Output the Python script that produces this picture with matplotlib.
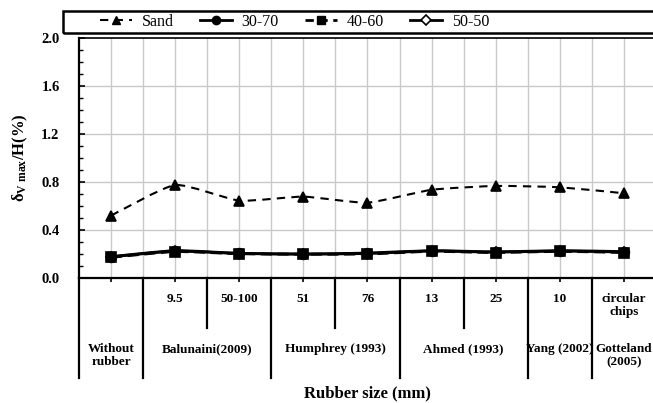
import matplotlib
matplotlib.use('Agg')
import matplotlib.pyplot as plt
from matplotlib.path import Path
from matplotlib.patches import PathPatch, Rectangle
from matplotlib.lines import Line2D
import numpy as np

plt.rcParams['font.family'] = ['Liberation Serif', 'DejaVu Serif']
plt.rcParams['mathtext.fontset'] = 'custom'
plt.rcParams['mathtext.rm'] = 'Liberation Serif:bold'
plt.rcParams['mathtext.it'] = 'Liberation Serif:bold'
plt.rcParams['mathtext.bf'] = 'Liberation Serif:bold'

# ---- data ----
sub_labels = ['', '9.5', '50-100', '51', '76', '13', '25', '10', 'circular\nchips']
group_names = ['Without\nrubber', 'Balunaini(2009)', 'Humphrey (1993)', 'Ahmed (1993)', 'Yang (2002)', 'Gotteland\n(2005)']
group_first = [0, 1, 3, 5, 7, 8]
group_last = [0, 2, 4, 6, 7, 8]
sand = [0.52, 0.775, 0.645, 0.678, 0.628, 0.735, 0.767, 0.756, 0.706]
s30_70 = [0.178, 0.228, 0.206, 0.200, 0.208, 0.228, 0.218, 0.228, 0.220]
s40_60 = [0.172, 0.220, 0.202, 0.198, 0.200, 0.222, 0.212, 0.222, 0.212]
s50_50 = [0.176, 0.224, 0.204, 0.199, 0.204, 0.225, 0.215, 0.225, 0.216]
yticks = [0.0, 0.4, 0.8, 1.2, 1.6, 2.0]

W, H = 653, 403
fig = plt.figure(figsize=(W / 100, H / 100), dpi=100)
L, R, T, B = 79, 656, 38, 278
ax = fig.add_axes([L / W, (H - B) / H, (R - L) / W, (B - T) / H])

x = np.arange(len(sand))


def smooth_path(xs, ys, k=0.09):
    pts = np.column_stack([xs, ys]).astype(float)
    ext = np.vstack([pts[0], pts, pts[-1]])
    verts = [pts[0]]
    codes = [Path.MOVETO]
    for i in range(len(pts) - 1):
        p0, p1, p2, p3 = ext[i], ext[i + 1], ext[i + 2], ext[i + 3]
        c1 = p1 + (p2 - p0) * k
        c2 = p2 - (p3 - p1) * k
        verts += [c1, c2, p2]
        codes += [Path.CURVE4] * 3
    return Path(verts, codes)


def draw_series(vals, ls, lw, marker, ms, mfc, z):
    patch = PathPatch(smooth_path(x, vals), facecolor='none', edgecolor='black',
                      lw=lw, linestyle=ls, zorder=z, capstyle='butt')
    ax.add_patch(patch)
    ax.plot(x, vals, linestyle='none', marker=marker, ms=ms, mfc=mfc,
            mec='black', mew=1.2, zorder=z + 0.1)


draw_series(s50_50, '-', 2.0, 'D', 5, 'white', 3)
draw_series(s40_60, (0, (4, 2)), 2.0, 's', 6.5, 'black', 4)
draw_series(s30_70, '-', 2.0, 'o', 7, 'black', 5)
draw_series(sand, (0, (4, 3)), 1.5, '^', 6.5, 'black', 6)

ax.set_xlim(-0.5, 8.5)
ax.set_ylim(0, 2.0)
ax.set_yticks(yticks)
ax.set_yticklabels([f'{v:.1f}' for v in yticks], fontsize=10.5, fontweight='bold')
ax.set_yticks(np.arange(0, 2.0001, 0.1), minor=True)
ax.tick_params(axis='y', which='major', direction='in', length=4, width=1.2, pad=14)
ax.tick_params(axis='y', which='minor', direction='in', length=3, width=1.0)
ax.set_xticks(x)
ax.set_xticklabels([])
ax.tick_params(axis='x', which='major', direction='out', length=3, width=1.2)

# grid
for gx in np.arange(0, 8.51, 0.5):
    ax.axvline(gx, color='#c9c9c9', lw=1.0, zorder=0)
for gy in yticks[1:-1]:
    ax.axhline(gy, color='#c9c9c9', lw=1.0, zorder=0)

for s in ['left', 'bottom', 'top']:
    ax.spines[s].set_linewidth(1.6)
ax.spines['right'].set_visible(False)
ax.spines['top'].set_linewidth(1.2)

# category table below axis
tr = ax.get_xaxis_transform()
full_end = (B - 378) / (B - T)
short_end = (B - 328) / (B - T)
bounds_full = sorted(set([g - 0.5 for g in group_first] + [group_last[-1] + 0.5]))
for bx in bounds_full:
    ax.add_line(Line2D([bx, bx], [0, full_end], transform=tr, color='black', lw=1.6, clip_on=False))
for f, l in zip(group_first, group_last):
    for k in range(f, l):
        ax.add_line(Line2D([k + 0.5, k + 0.5], [0, short_end], transform=tr, color='black', lw=1.6, clip_on=False))

sub_y = (B - 293) / (B - T)
for xi, lab in zip(x, sub_labels):
    ax.text(xi, sub_y, lab, transform=tr, ha='center', va='top', fontsize=9.5,
            fontweight='bold', linespacing=1.15)
grp_y = (B - 343) / (B - T)
for name, f, l in zip(group_names, group_first, group_last):
    ax.text((f + l) / 2, grp_y, name, transform=tr, ha='center', va='top', fontsize=9.5,
            fontweight='bold', linespacing=1.15)

ax.text(4.0, (B - 393) / (B - T), 'Rubber size (mm)', transform=tr, ha='center', va='center',
        fontsize=12, fontweight='bold')
ax.text((20 - L) / (R - L), 0.5, r'δ$_{\mathrm{V\ max}}$/H(%)', transform=ax.transAxes,
        rotation=90, ha='center', va='center', fontsize=12, fontweight='bold')

# legend
handles = [
    Line2D([], [], color='black', ls=(0, (4, 3)), lw=1.5, marker='^', ms=6, mfc='black', mec='black'),
    Line2D([], [], color='black', ls='-', lw=2, marker='o', ms=6, mfc='black', mec='black'),
    Line2D([], [], color='black', ls=(0, (3, 2)), lw=2, marker='s', ms=5.5, mfc='black', mec='black'),
    Line2D([], [], color='black', ls='-', lw=2, marker='D', ms=5, mfc='white', mec='black', mew=1.2),
]
leg = fig.legend(handles, ['Sand', '30-70', '40-60', '50-50'], loc='center left',
                 bbox_to_anchor=(100 / W, (H - 22) / H), ncol=4, frameon=False,
                 fontsize=11.5, handlelength=2.0, handletextpad=0.6, columnspacing=1.65,
                 borderaxespad=0, borderpad=0)
fig.add_artist(Rectangle((63 / W, (H - 33) / H), (700 - 63) / W, 22 / H, transform=fig.transFigure,
                         fill=False, ec='black', lw=1.8, clip_on=False))

fig.savefig('out.png', dpi=100)
